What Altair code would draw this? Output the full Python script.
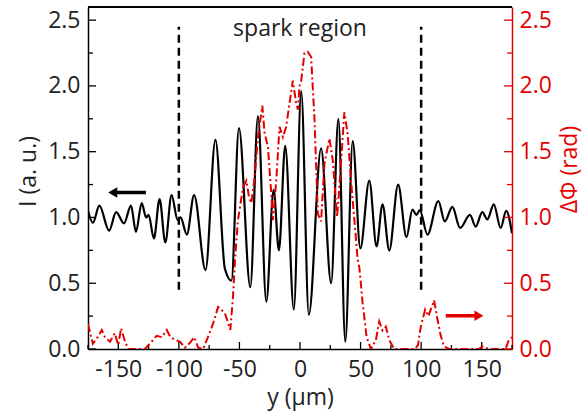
import altair as alt
import pandas as pd

# ---- data ----
I_x = [-175, -171, -165.6, -157.6, -151.8, -145.3, -139.5, -135.4, -130.7, -127, -125,
       -120.6, -115.9, -111.2, -106, -101, -98.6, -93.4, -87.4, -78, -69.8, -62, -56.6,
       -50.4, -41, -34.7, -27.8, -21.8, -17.4, -12.2, -5.1, 1, 7.3, 17.4, 25.7, 31.7,
       37.4, 43.5, 49.8, 57.2, 63.2, 68.1, 73.7, 81, 87.9, 92.8, 96.1, 98.9, 105.2,
       114.2, 119.5, 125.8, 132.1, 140.3, 145, 150.5, 154.6, 160, 165.6, 170.2, 175]
I_y = [1.05, 0.96, 1.09, 0.90, 1.04, 0.955, 1.09, 0.89, 1.11, 1.0, 1.02,
       0.84, 1.14, 0.81, 1.17, 0.98, 1.0, 0.87, 1.17, 0.60, 1.59, 0.61, 0.52,
       1.68, 0.47, 1.77, 0.36, 1.21, 0.75, 1.545, 0.30, 1.96, 0.26, 1.525, 0.50, 1.75,
       0.055, 1.58, 0.765, 1.28, 0.78, 1.10, 0.75, 1.25, 0.85, 1.06, 1.02, 1.056, 0.87,
       1.125, 0.97, 1.08, 0.92, 1.02, 0.93, 1.04, 0.985, 1.10, 0.92, 1.05, 0.88]

P_x = [-175, -171, -167, -163.6, -161, -156.8, -153, -150, -147.7, -144.4, -141.7, -128,
       -122.5, -118.4, -114, -110, -107, -103, -99, -95, -91, -87.4, -84, -80, -76.4,
       -71.7, -67.6, -65, -62, -59.2, -57.5, -55.3, -53.5, -51.2, -47, -44.3, -42, -40.2,
       -37.5, -34.7, -31.1, -29.2, -26.5, -23.7, -22.4, -19.6, -16.9, -14.1, -11.4, -8.6,
       -5.9, -4.5, -3.2, -1.8, -0.4, 1, 3.7, 6.4, 9.2, 12, 14.7, 17.4, 20.2, 24.3, 27,
       30.6, 32.5, 36.6, 39.3, 42.1, 44.9, 47.6, 49, 51.7, 55, 58.6, 62.7, 65.4, 68.1,
       70.9, 73.6, 77.7, 95, 97.4, 99.7, 103.3, 106, 108.7, 110.7, 113.4, 116.2, 118.9,
       123, 147.7, 150.5, 156, 169.7, 172.4, 175]
P_y = [0.19, 0.04, 0.09, 0.145, 0.09, 0.055, 0.12, 0.03, 0.157, 0.055, 0.0, 0.0,
       0.055, 0.10, 0.09, 0.145, 0.09, 0.07, 0.055, 0.01, 0.045, 0.09, 0.01, 0.0, 0.08,
       0.195, 0.32, 0.30, 0.27, 0.195, 0.145, 0.40, 0.70, 0.98, 1.23, 1.28, 1.15, 1.11,
       1.30, 1.61, 1.85, 1.64, 1.54, 1.18, 0.98, 1.28, 1.69, 1.61, 1.69, 1.87,
       2.04, 1.95, 1.87, 1.82, 2.0, 2.04, 2.25, 2.26, 2.22, 1.74, 1.03, 0.97, 1.41, 1.60, 1.44,
       1.005, 1.23, 1.80, 1.64, 1.28, 0.98, 0.68, 0.62, 0.35, 0.09, 0.0, 0.07, 0.21, 0.14,
       0.17, 0.07, 0.0, 0.0, 0.03, 0.17, 0.30, 0.25, 0.32, 0.37, 0.23, 0.10, 0.02,
       0.0, 0.0, 0.02, 0.0, 0.0, 0.07, 0.09]

region_x = [-100, 100]
region_y0 = [0.45, 0.45]
region_y1 = [2.45, 2.45]
label_text = ["spark region"]
label_x = [0]
label_y = [2.38]

arrowI_x = [-127.2, -154.6]   # shaft end, head
arrowI_y = [1.19]
arrowP_x = [120.3, 147.7]
arrowP_y = [0.253]

x_major = [-150, -100, -50, 0, 50, 100, 150]
x_minor = [-175, -125, -75, -25, 25, 75, 125, 175]
y_major = [0.0, 0.5, 1.0, 1.5, 2.0, 2.5]
y_minor = [0.25, 0.75, 1.25, 1.75, 2.25]

RED = "#e50000"
FONT = "Open Sans"
W, H = 424, 342

dfI = pd.DataFrame({"x": I_x, "I": I_y})
dfP = pd.DataFrame({"x": P_x, "P": P_y})
dfR = pd.DataFrame({"x": region_x, "y0": region_y0, "y1": region_y1})
dfT = pd.DataFrame({"x": label_x, "y": label_y, "t": label_text})
dfAI = pd.DataFrame({"x": [arrowI_x[0]], "x2": [arrowI_x[1]], "y": arrowI_y})
dfAIh = pd.DataFrame({"x": [arrowI_x[1]], "y": arrowI_y})
dfAP = pd.DataFrame({"x": [arrowP_x[0]], "x2": [arrowP_x[1]], "y": arrowP_y})
dfAPh = pd.DataFrame({"x": [arrowP_x[1]], "y": arrowP_y})
dfXM = pd.DataFrame({"v": x_major})
dfXm = pd.DataFrame({"v": x_minor})
dfYM = pd.DataFrame({"v": y_major})
dfYm = pd.DataFrame({"v": y_minor})

xs = alt.Scale(domain=[-175, 175], nice=False, zero=False)
ys = alt.Scale(domain=[0, 2.6], nice=False, zero=False)

x_axis = alt.Axis(values=x_major, labelExpr="'' + datum.value", tickSize=0,
                  domainColor="black", domainWidth=1.5, labelFont=FONT, labelFontSize=23,
                  labelColor="#222", labelPadding=9, title="y (µm)", titleFont=FONT,
                  titleFontSize=23, titleFontWeight="normal", titleColor="#222",
                  titleBaseline="alphabetic", titleX=212, titleY=55, grid=False)
yL_axis = alt.Axis(values=y_major, format=".1f", tickSize=0, orient="left",
                   domainColor="black", domainWidth=1.5, labelFont=FONT, labelFontSize=23,
                   labelColor="#222", labelPadding=8, title="I (a. u.)", titleFont=FONT,
                   titleFontSize=23, titleFontWeight="normal", titleColor="#222",
                   titleAngle=270, titleBaseline="middle", titleAlign="center",
                   titleX=-60, titleY=164, grid=False)
yR_axis = alt.Axis(values=y_major, format=".1f", tickSize=0, orient="right",
                   domainColor=RED, domainWidth=1.5, labelFont=FONT, labelFontSize=23,
                   labelColor=RED, labelPadding=7, title="ΔΦ (rad)", titleFont=FONT,
                   titleFontSize=23, titleFontWeight="normal", titleColor=RED,
                   titleAngle=270, titleBaseline="middle", titleAlign="center",
                   titleX=57, titleY=162, grid=False)

X = lambda f: alt.X(f, type="quantitative", scale=xs, axis=x_axis)
YL = lambda f: alt.Y(f, type="quantitative", scale=ys, axis=yL_axis)
YR = lambda f: alt.Y(f, type="quantitative", scale=ys, axis=yR_axis)

lineI = alt.Chart(dfI).mark_line(color="black", strokeWidth=2.2, interpolate="monotone",
                                 clip=True).encode(x=X("x"), y=YL("I"))
rules = alt.Chart(dfR).mark_rule(color="black", strokeWidth=2.5, strokeDash=[8, 5]).encode(
    x=X("x"), y=YL("y0"), y2="y1")
text = alt.Chart(dfT).mark_text(font=FONT, fontSize=23, color="#222",
                                baseline="alphabetic", align="center").encode(
    x=X("x"), y=YL("y"), text="t")
arrI = alt.Chart(dfAI).mark_rule(color="black", strokeWidth=3.5).encode(
    x=X("x"), x2="x2", y=YL("y"))
arrIh = alt.Chart(dfAIh).mark_point(shape="triangle-left", filled=True, size=110,
                                    color="black", opacity=1, strokeWidth=0).encode(
    x=X("x"), y=YL("y"))
ticksLM = alt.Chart(dfYM).mark_rule(color="black", strokeWidth=1.3).encode(
    y=YL("v"), x=alt.value(0), x2=alt.value(8))
ticksLm = alt.Chart(dfYm).mark_rule(color="black", strokeWidth=1.3).encode(
    y=YL("v"), x=alt.value(0), x2=alt.value(5))
ticksBM = alt.Chart(dfXM).mark_rule(color="black", strokeWidth=1.3).encode(
    x=X("v"), y=alt.value(H), y2=alt.value(H - 7))
ticksBm = alt.Chart(dfXm).mark_rule(color="black", strokeWidth=1.3).encode(
    x=X("v"), y=alt.value(H), y2=alt.value(H - 4))
topline = alt.Chart(dfXM).mark_rule(color="black", strokeWidth=1.5).encode(
    x=alt.value(0), x2=alt.value(W), y=alt.value(0))

left = alt.layer(lineI, rules, text, arrI, arrIh, ticksLM, ticksLm, ticksBM, ticksBm, topline)

lineP = alt.Chart(dfP).mark_line(color=RED, strokeWidth=2, strokeDash=[8, 3, 2, 3],
                                 clip=True).encode(x=X("x"), y=YR("P"))
arrP = alt.Chart(dfAP).mark_rule(color=RED, strokeWidth=3.5).encode(
    x=X("x"), x2="x2", y=YR("y"))
arrPh = alt.Chart(dfAPh).mark_point(shape="triangle-right", filled=True, size=110,
                                    color=RED, opacity=1, strokeWidth=0).encode(
    x=X("x"), y=YR("y"))
ticksRM = alt.Chart(dfYM).mark_rule(color=RED, strokeWidth=1.3).encode(
    y=YR("v"), x=alt.value(W), x2=alt.value(W - 8))
ticksRm = alt.Chart(dfYm).mark_rule(color=RED, strokeWidth=1.3).encode(
    y=YR("v"), x=alt.value(W), x2=alt.value(W - 5))

right = alt.layer(lineP, arrP, arrPh, ticksRM, ticksRm)

chart = alt.layer(left, right).resolve_scale(y="independent").properties(
    width=W, height=H,
    autosize=alt.AutoSizeParams(type="none"),
    padding={"left": 88, "top": 7, "right": 70, "bottom": 64},
).configure_view(stroke=None).configure(background="white")

chart.save("out.html", embed_options={"renderer": "svg", "actions": False})
